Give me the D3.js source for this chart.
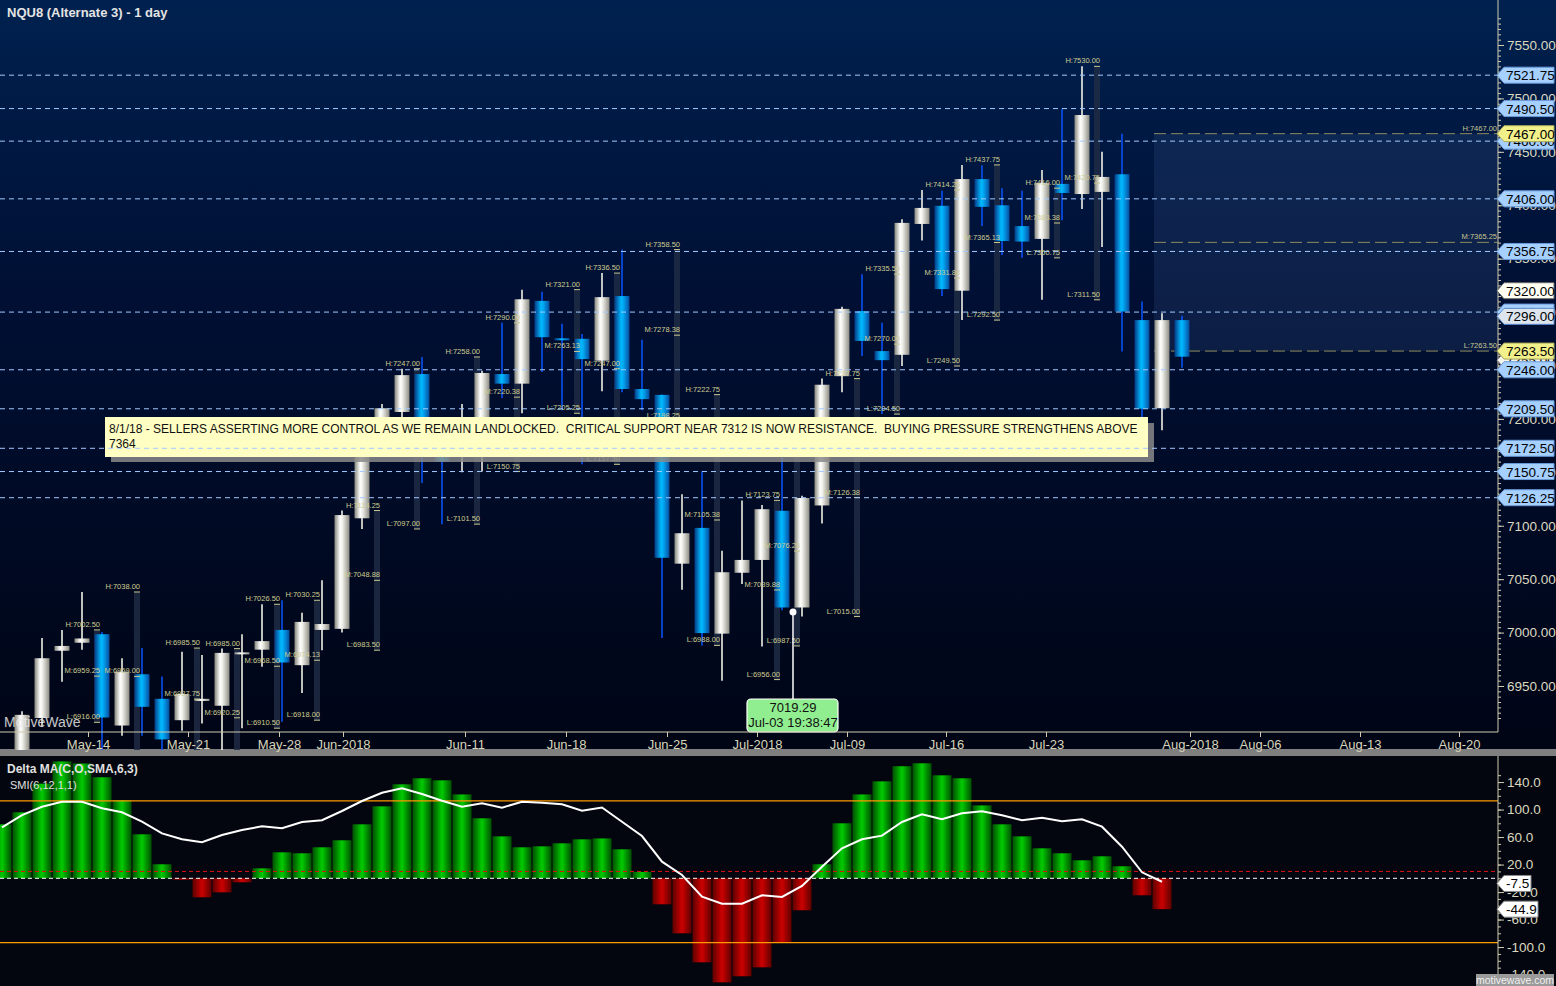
<!DOCTYPE html>
<html><head><meta charset="utf-8">
<script src="https://cdn.jsdelivr.net/npm/d3@7"></script>
<style>body{margin:0;background:#000;overflow:hidden}svg{display:block;font-family:"Liberation Sans",Arial,sans-serif}</style>
</head><body><svg id="c" width="1556" height="986"></svg>
<script>
// ---------------- DATA ----------------
const opens  = [6875,6885,6920,6983,6990.5,6998.5,6913,6961,6938,6918,6936,6931.5,6980.5,6984,7002.5,6969.5,7002.5,7003.5,7107,7175,7206.5,7242,7190,7165,7185,7242,7233,7310.5,7275.5,7275,7254.5,7315,7228,7222.5,7064.5,7098,6999,7056,7068,7114,7023.5,7119,7240,7301,7263.5,7260,7382.5,7399.5,7320,7424.5,7400,7380.5,7368.5,7420,7410.5,7412.5,7429,7292.5,7210,7292.5];
const highs  = [6884,6926.25,6995,7002.5,7038,7000.5,6976,6985.5,6959,6982,6979,6985,6998.5,7026.5,7030.25,7018.5,7049,7114.25,7195,7214,7247,7258,7200,7214,7245,7290,7321,7319,7289,7279.5,7336.5,7358.5,7274,7222.75,7129.5,7151,7076.5,7123.75,7119.5,7165,7128,7237.75,7305,7335.5,7290,7387,7414.25,7413.5,7437.75,7437.5,7416,7413.5,7433,7490,7530,7450,7467,7310,7299,7296.5];
const lows   = [6860,6875,6912,6954,6984,6888,6903.5,6903.5,6888,6908,6915,6887,6910.5,6968,6916.5,6943.5,6983.5,7000,7097,7165,7190,7140,7101.5,7150,7150.75,7219.5,7205.25,7244,7208,7157.5,7226,7225,7208,6995,7040,6988,6955,7045.5,6987,7021,7015,7102,7225,7259,7204.5,7249.5,7367,7315,7292.5,7380.5,7353.5,7350.75,7311.5,7386,7396.5,7361,7263,7199,7189.5,7248];
const closes = [6870,6923,6976,6987.5,6994.5,6920.5,6963.5,6930.5,6900,6942.5,6938,6981,6981.5,6992,6972,7010,7008,7110,7178,7210,7241,7185,7160,7195,7243,7233,7312,7276.5,7274,7256,7314,7228,7218.5,7070,7093,6999.5,7056.5,7068,7115.5,7023.5,7126,7232,7303,7273,7255,7383.5,7397.5,7321.5,7424.5,7398.5,7366.5,7366,7421,7411.5,7484.5,7426.5,7300.5,7209.5,7292.5,7258.25];

const deltaMA = [78.5,96,137.7,170,167,147,113.5,64,20.4,-2,-27.6,-20.4,-5.8,14.5,37.8,36.4,45.1,55.3,78.5,104.7,136.7,145.5,142.5,122,87.3,61,45.1,46.5,50.9,56.7,58,42.2,9.2,-37.8,-80,-122.2,-151.3,-142.5,-129.5,-93,-46.5,20.4,80,122,141,163,167.3,149.8,145.5,106,78.5,61,43.6,36.4,26.2,32,17.5,-24.7,-44.9];
const smiLine = [74,92,104,111.4,111.4,101.8,96,82.3,65.4,56.7,52.4,63,70.3,75.6,72.7,81.9,84.4,97.9,112.4,124.5,130.9,122.6,112.9,104.2,109.1,102.7,111.4,110,107.6,98.3,103,82.3,61.5,24.2,4.8,-26.7,-36.9,-36.9,-24.7,-27.2,-11.2,16.9,43.6,56.7,62,81.9,93.1,85.8,94.5,97.5,91.6,84.4,88.2,82.9,85.8,75.1,46,8.7,-5];

const pivotIdx = [5,7,10,12,14,16,19,21,24,26,29,31,34,36,39,40,43,45,48,50,53,55];
const pivotH = [7002.50,7038.00,6985.50,6985.00,7026.50,7030.25,7114.25,7247.00,7258.00,7290.00,7321.00,7336.50,7358.50,7222.75,7123.75,7165.00,7237.75,7335.50,7414.25,7437.75,7416.00,7530.00];
const pivotM = [6959.25,6959.00,6937.75,6920.25,6968.50,6974.13,7048.88,7172.00,7179.75,7220.38,7263.13,7247.00,7278.38,7105.38,7039.88,7076.25,7126.38,7270.00,7331.88,7365.13,7383.38,7420.75];
const pivotL = [6916.00,6880.00,6890.00,6855.50,6910.50,6918.00,6983.50,7097.00,7101.50,7150.75,7205.25,7157.50,7198.25,6988.00,6956.00,6987.50,7015.00,7204.50,7249.50,7292.50,7350.75,7311.50];

const projLevels = [7467.00, 7365.25, 7263.50];
const projNames = ["H","M","L"];
const projStartIdx = 57.6;

const levelLines = [7521.75,7490.50,7460.00,7406.00,7356.75,7300.00,7246.00,7209.50,7172.50,7150.75,7126.25];

const tickLabels = ["May-14","May-21","May-28","Jun-2018","Jun-11","Jun-18","Jun-25","Jul-2018","Jul-09","Jul-16","Jul-23","Aug-2018","Aug-06","Aug-13","Aug-20"];
const tickIdx    = [4.3,9.3,13.85,17.05,23.15,28.2,33.25,37.75,42.25,47.2,52.2,59.4,62.9,67.9,72.85];

const priceTickVals = [6950,7000,7050,7100,7150,7200,7250,7300,7350,7400,7450,7500,7550];
const indTickVals = [140,100,60,20,-20,-60,-100,-140];
const indRefLevels = [112.5,-93.5];

const note = ["8/1/18 - SELLERS ASSERTING MORE CONTROL AS WE REMAIN LANDLOCKED.  CRITICAL SUPPORT NEAR 7312 IS NOW RESISTANCE.  BUYING PRESSURE STRENGTHENS ABOVE","7364"];
const tipValue = 7019.29, tipIdx = 39.55, tipText = ["7019.29","Jul-03 19:38:47"];

// ---------------- SCALES ----------------
const svg = d3.select("#c");
const AX = 1498;
const x = d3.scaleLinear().domain([0,1]).range([2,22]);
const y = d3.scaleLinear().domain([6950,7550]).range([686,45]);
const yi = d3.scaleLinear().domain([-140,140]).range([974.55,782.05]);

const defs = svg.append("defs");
function lg(id, stops, vertical){
  const g = defs.append("linearGradient").attr("id",id)
    .attr("x1",0).attr("y1",0).attr("x2",vertical?0:1).attr("y2",vertical?1:0);
  stops.forEach(s=>g.append("stop").attr("offset",s[0]).attr("stop-color",s[1]));
}
lg("bgMain",[["0%","#00214f"],["40%","#000f33"],["100%","#000515"]],true);
lg("upG",[["0%","#86867c"],["38%","#ffffff"],["55%","#ecece6"],["100%","#8c8c84"]]);
lg("dnG",[["0%","#073a86"],["45%","#00baff"],["60%","#00a4f0"],["100%","#0a4c9e"]]);
lg("grG",[["0%","#005000"],["50%","#00cc00"],["100%","#005000"]]);
lg("rdG",[["0%","#5e0000"],["50%","#cc0000"],["100%","#5e0000"]]);
defs.append("clipPath").attr("id","cpMain").append("rect").attr("x",0).attr("y",0).attr("width",AX).attr("height",750);
defs.append("clipPath").attr("id","cpInd").append("rect").attr("x",0).attr("y",756).attr("width",AX).attr("height",230);

// backgrounds
svg.append("rect").attr("x",0).attr("y",0).attr("width",1556).attr("height",750).attr("fill","url(#bgMain)");
svg.append("rect").attr("x",0).attr("y",749).attr("width",1556).attr("height",7).attr("fill","#7f7f7f");
svg.append("rect").attr("x",0).attr("y",756).attr("width",1556).attr("height",230).attr("fill","#03060e");

const main = svg.append("g").attr("clip-path","url(#cpMain)");

// projection box
const px0 = x(projStartIdx);
main.append("rect").attr("x",px0).attr("y",y(projLevels[0])).attr("width",AX-px0)
  .attr("height",y(projLevels[2])-y(projLevels[0])).attr("fill","#3a5a90").attr("opacity",0.22);
projLevels.forEach((v,k)=>{
  main.append("line").attr("x1",px0).attr("x2",AX).attr("y1",y(v)).attr("y2",y(v))
    .attr("stroke","#8e8c5c").attr("stroke-dasharray","12,5").attr("stroke-width",1);
  main.append("text").attr("x",AX-1).attr("y",y(v)-3).attr("text-anchor","end")
    .attr("font-size",7.5).attr("fill","#c8c690").text(projNames[k]+":"+v.toFixed(2));
});

// pivot columns
pivotIdx.forEach((pi,k)=>{
  const xr = x(pi)-2;
  main.append("rect").attr("x",xr-6).attr("width",6).attr("y",y(pivotH[k])).attr("height",y(pivotL[k])-y(pivotH[k]))
    .attr("fill","#1e2c44").attr("opacity",0.85);
});

// candles
const cg = main.append("g");
opens.forEach((o,i)=>{
  const c = closes[i], up = c>=o, cx = x(i);
  cg.append("line").attr("x1",cx).attr("x2",cx).attr("y1",y(highs[i])).attr("y2",y(lows[i]))
    .attr("stroke",up?"#fffff0":"#0a55ff").attr("stroke-width",1.5);
  const top = y(Math.max(o,c)), h = Math.max(2, Math.abs(y(o)-y(c)));
  cg.append("rect").attr("x",cx-7.5).attr("width",15).attr("y",top).attr("height",h)
    .attr("fill",up?"url(#upG)":"url(#dnG)");
});

// pivot labels
pivotIdx.forEach((pi,k)=>{
  const xr = x(pi)-2;
  [["H",pivotH[k]],["M",pivotM[k]],["L",pivotL[k]]].forEach(([n,v])=>{
    const yy = y(v);
    if (yy>736) return;
    main.append("line").attr("x1",xr-6).attr("x2",xr).attr("y1",yy).attr("y2",yy).attr("stroke","#c8c690").attr("stroke-width",1);
    main.append("text").attr("x",xr).attr("y",yy-3).attr("text-anchor","end").attr("font-size",7.5)
      .attr("fill","#cfcc92").text(n+":"+v.toFixed(2));
  });
});

// watermark
main.append("text").attr("x",4).attr("y",727).attr("font-size",14).attr("fill","#e8e8e8").attr("opacity",0.85).text("MotiveWave");

// annotation box
main.append("rect").attr("x",111).attr("y",423).attr("width",1043).attr("height",39).attr("fill","#8a8a8a").attr("opacity",0.85);
main.append("rect").attr("x",105).attr("y",417).attr("width",1043).attr("height",40).attr("fill","#ffffc4");
note.forEach((t,k)=>main.append("text").attr("x",109).attr("y",433+k*15).attr("font-size",12)
  .attr("xml:space","preserve").style("white-space","pre").attr("fill","#111").text(t));

// dashed level lines (on top)
levelLines.forEach(v=>{
  main.append("line").attr("x1",0).attr("x2",AX).attr("y1",y(v)).attr("y2",y(v))
    .attr("stroke","#a2caff").attr("stroke-width",1).attr("stroke-dasharray","5,4");
});

// tooltip
const tx = x(tipIdx), ty = y(tipValue);
main.append("line").attr("x1",tx).attr("x2",tx).attr("y1",ty).attr("y2",699).attr("stroke","#ffffff").attr("stroke-width",1.5);
main.append("circle").attr("cx",tx).attr("cy",ty).attr("r",3.5).attr("fill","#ffffff");
main.append("rect").attr("x",tx-46).attr("y",699).attr("width",91).attr("height",33).attr("rx",4)
  .attr("fill","#90ee90").attr("stroke","#ffffff").attr("stroke-width",1.2);
tipText.forEach((t,k)=>main.append("text").attr("x",tx).attr("y",712+k*15).attr("text-anchor","middle")
  .attr("font-size",13).attr("fill","#111").text(t));

// x axis
svg.append("line").attr("x1",0).attr("x2",AX).attr("y1",732).attr("y2",732).attr("stroke","#cfcbb0").attr("stroke-width",1);
const xa = svg.append("g").attr("transform","translate(0,732)")
  .call(d3.axisBottom(x).tickValues(tickIdx).tickFormat((d,i)=>tickLabels[i]).tickSize(5).tickPadding(3));
xa.select(".domain").remove();
xa.selectAll("line").attr("stroke","#cfcbb0");
xa.selectAll("text").attr("fill","#d8d4ba").attr("font-size",13).attr("font-family","Liberation Sans, Arial");

// price axis
svg.append("line").attr("x1",AX).attr("x2",AX).attr("y1",0).attr("y2",732).attr("stroke","#cfcbb0");
const minorP = d3.range(6920,7580,5);
const pm = svg.append("g").attr("transform",`translate(${AX},0)`)
  .call(d3.axisRight(y).tickValues(minorP.filter(v=>y(v)>2&&y(v)<730)).tickSize(3).tickFormat(""));
pm.select(".domain").remove(); pm.selectAll("line").attr("stroke","#cfcbb0");
const pa = svg.append("g").attr("transform",`translate(${AX},0)`)
  .call(d3.axisRight(y).tickValues(priceTickVals).tickSize(6).tickPadding(3).tickFormat(d=>d.toFixed(2)));
pa.select(".domain").remove(); pa.selectAll("line").attr("stroke","#cfcbb0");
pa.selectAll("text").attr("fill","#dcd8c0").attr("font-size",13.5).attr("font-family","Liberation Sans, Arial");

// flags
function flag(v, label, fill, stroke, scale, right){
  const yc = scale(v), r = right||1554;
  svg.append("path").attr("d",`M${AX-1},${yc} L${AX+6},${yc-8} L${r},${yc-8} L${r},${yc+8} L${AX+6},${yc+8} Z`)
    .attr("fill",fill).attr("stroke",stroke).attr("stroke-width",1);
  svg.append("text").attr("x",AX+8).attr("y",yc+5).attr("font-size",13.5).attr("fill","#000").text(label);
}
flag(7255.00,"7255.00","#f4f4ee","#888",y);
levelLines.forEach(v=>flag(v,v.toFixed(2),"#a6d0ff","#6a9ad8",y));
flag(7320.00,"7320.00","#fffff4","#666",y);
flag(7296.00,"7296.00","#dce4ee","#5a8ad0",y);
flag(7467.00,"7467.00","#f2f08a","#a8a65a",y);
flag(7263.50,"7263.50","#f2f08a","#a8a65a",y);

// title
svg.append("text").attr("x",7).attr("y",17).attr("font-size",13).attr("font-weight","bold").attr("fill","#e4e4e4").text("NQU8 (Alternate 3) - 1 day");

// ---------------- INDICATOR ----------------
const ind = svg.append("g").attr("clip-path","url(#cpInd)");
deltaMA.forEach((v,i)=>{
  const y0 = yi(0), y1 = yi(v);
  ind.append("rect").attr("x",x(i)-9.5).attr("width",19).attr("y",Math.min(y0,y1)).attr("height",Math.abs(y1-y0))
    .attr("fill",v>=0?"url(#grG)":"url(#rdG)");
});
indRefLevels.forEach(v=>ind.append("line").attr("x1",0).attr("x2",AX).attr("y1",yi(v)).attr("y2",yi(v)).attr("stroke","#ff9900").attr("stroke-width",1.2));
ind.append("line").attr("x1",0).attr("x2",AX).attr("y1",yi(10)).attr("y2",yi(10)).attr("stroke","#dd1111").attr("stroke-dasharray","4,3");
ind.append("line").attr("x1",0).attr("x2",AX).attr("y1",yi(0)).attr("y2",yi(0)).attr("stroke","#ffffff").attr("stroke-dasharray","4,3");
ind.append("path").datum(smiLine).attr("d",d3.line().x((d,i)=>x(i)).y(d=>yi(d)))
  .attr("fill","none").attr("stroke","#ffffff").attr("stroke-width",2);
svg.append("text").attr("x",7).attr("y",773).attr("font-size",12).attr("font-weight","bold").attr("fill","#e0e0e0").text("Delta MA(C,O,SMA,6,3)");
svg.append("text").attr("x",10).attr("y",789).attr("font-size",11).attr("fill","#e0e0e0").text("SMI(6,12,1,1)");

svg.append("line").attr("x1",AX).attr("x2",AX).attr("y1",756).attr("y2",986).attr("stroke","#cfcbb0");
const im = svg.append("g").attr("transform",`translate(${AX},0)`)
  .call(d3.axisRight(yi).tickValues(d3.range(-140,151,10)).tickSize(3).tickFormat(""));
im.select(".domain").remove(); im.selectAll("line").attr("stroke","#cfcbb0");
const ia = svg.append("g").attr("transform",`translate(${AX},0)`)
  .call(d3.axisRight(yi).tickValues(indTickVals).tickSize(6).tickPadding(3).tickFormat(d=>d.toFixed(1)));
ia.select(".domain").remove(); ia.selectAll("line").attr("stroke","#cfcbb0");
ia.selectAll("text").attr("fill","#dcd8c0").attr("font-size",13.5).attr("font-family","Liberation Sans, Arial");
flag(-7.5,"-7.5","#ffffff","#888",yi,1531);
flag(-44.9,"-44.9","#ffffff","#888",yi,1538);

svg.append("rect").attr("x",1476).attr("y",974).attr("width",78).attr("height",12).attr("fill","#9a9a9a");
svg.append("text").attr("x",1515).attr("y",984).attr("text-anchor","middle").attr("font-size",10.5).attr("fill","#f0f0f0").text("motivewave.com");
</script></body></html>
